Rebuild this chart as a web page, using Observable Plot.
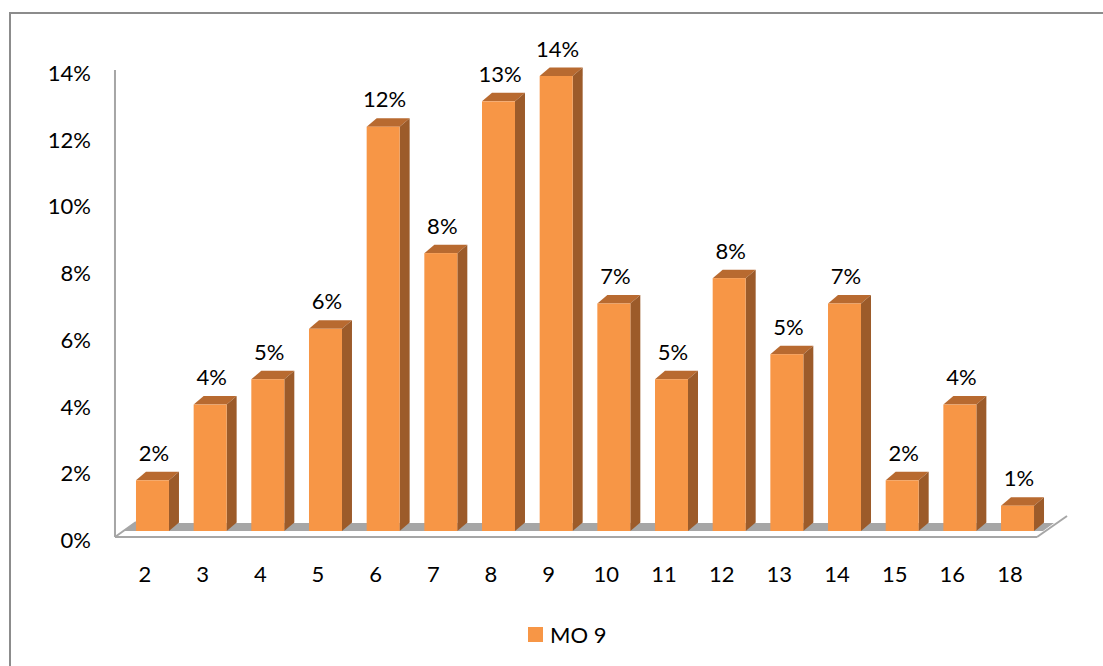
<!DOCTYPE html>
<html>
<head>
<meta charset="utf-8">
<script src="https://cdn.jsdelivr.net/npm/d3@7"></script>
<script src="https://cdn.jsdelivr.net/npm/@observablehq/plot@0.6"></script>
<style>
  html, body { margin: 0; padding: 0; background: #fff; overflow: hidden; }
  body { width: 1103px; height: 666px; position: relative; font-family: Lato, "Open Sans", sans-serif; }
  #frame { position: absolute; left: 9px; top: 12px; width: 1200px; height: 720px; border: 2px solid #8c8c8c; box-sizing: border-box; }
  #chart { position: absolute; left: 0; top: 0; }
  #legend { position: absolute; left: 528px; top: 621px; display: flex; align-items: center; gap: 7px; font-size: 22px; color: #000; }
  #legend .swatch { width: 15px; height: 15px; background: #f79646; }
</style>
</head>
<body>
<div id="frame"></div>
<div id="chart"></div>
<div id="legend"><span class="swatch"></span><span id="legend-label"></span></div>
<script>
// Share of respondents per category (percent)
const categories = ["2", "3", "4", "5", "6", "7", "8", "9", "10", "11", "12", "13", "14", "15", "16", "18"];
const shares = [1.52, 3.79, 4.55, 6.06, 12.12, 8.33, 12.88, 13.64, 6.82, 4.55, 7.58, 5.30, 6.82, 1.52, 3.79, 0.76];
const yTicks = [0, 2, 4, 6, 8, 10, 12, 14];
const seriesName = "MO 9";

const data = categories.map((category, i) => ({category, share: shares[i]}));

const frontColor = "#f79646";
const topColor = "#b86a30";
const sideColor = "#9c5b2a";
const floorColor = "#a6a6a6";
const depthX = 10, depthY = 8.5;
const fmt = v => d3.format(".0f")(v) + "%";

// Floor slab and wall edge, placed with the chart's scales
function floor(index, scales) {
  const g = d3.create("svg:g");
  const bw = scales.x.bandwidth ? scales.x.bandwidth() : 33;
  const left = scales.x(categories[0]) - 21;
  const right = scales.x(categories[categories.length - 1]) + bw + 3;
  const y0 = scales.y(0);
  g.append("polygon")
    .attr("points", [[left + 8, y0], [right + 6, y0], [right + 17, y0 - 8], [left + 19, y0 - 8]].join(" "))
    .attr("fill", floorColor);
  const stroke = (x1, y1, x2, y2) => g.append("line")
    .attr("x1", x1).attr("y1", y1).attr("x2", x2).attr("y2", y2)
    .attr("stroke", floorColor).attr("stroke-width", 2);
  stroke(left, y0 + 6, right, y0 + 6);
  stroke(left, y0 + 6, left + 21, y0 - 9);
  stroke(right, y0 + 6, right + 30, y0 - 15);
  stroke(left, scales.y(14) + 6, left, y0 + 6);
  return g.node();
}

// Top and side faces that give each column its depth
function extrusion(index, scales) {
  const g = d3.create("svg:g");
  const bw = scales.x.bandwidth ? scales.x.bandwidth() : 33;
  for (const d of data) {
    const x0 = scales.x(d.category), x1 = x0 + bw;
    const yt = scales.y(d.share), yb = scales.y(0);
    g.append("polygon")
      .attr("points", [[x0, yt], [x0 + depthX, yt - depthY], [x1 + depthX, yt - depthY], [x1, yt]].join(" "))
      .attr("fill", topColor);
    g.append("polygon")
      .attr("points", [[x1, yt], [x1 + depthX, yt - depthY], [x1 + depthX, yb - depthY], [x1, yb]].join(" "))
      .attr("fill", sideColor);
  }
  return g.node();
}

const chart = Plot.plot({
  width: 1103,
  height: 600,
  marginTop: 64,
  marginBottom: 69,
  marginLeft: 111.3,
  marginRight: 44.3,
  style: {fontFamily: "Lato, 'Open Sans', sans-serif", fontSize: "22px", background: "transparent", overflow: "visible"},
  x: {domain: categories, padding: 0.428, round: false, axis: null},
  y: {domain: [0, 14], axis: null},
  marks: [
    floor,
    extrusion,
    Plot.barY(data, {x: "category", y: "share", fill: frontColor}),
    Plot.text(data, {x: "category", y: "share", text: d => fmt(d.share), dy: -27, dx: 1, fill: "#000", fontSize: 22}),
    Plot.text(data, {x: "category", y: () => 0, text: "category", dy: 43, dx: -8, fill: "#000", fontSize: 22}),
    Plot.text(yTicks, {y: d => d, text: d => d + "%", frameAnchor: "left", textAnchor: "end", dx: -21, dy: 9.5, fill: "#000", fontSize: 22})
  ]
});

document.getElementById("chart").appendChild(chart);
document.getElementById("legend-label").textContent = seriesName;
</script>
</body>
</html>
